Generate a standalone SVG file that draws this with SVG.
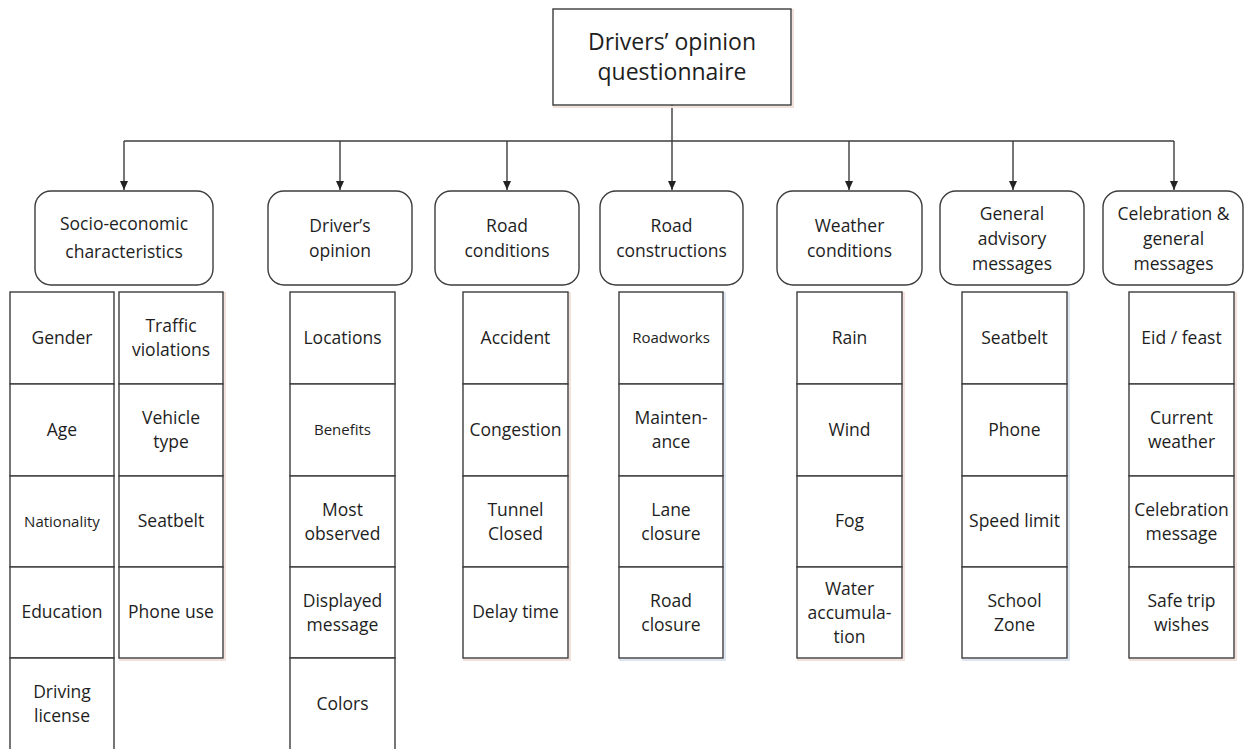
<svg xmlns="http://www.w3.org/2000/svg" width="1245" height="749" viewBox="0 0 1245 749">
<style>
text{font-family:"Open Sans","Noto Sans",sans-serif;fill:#1e1e1e;text-anchor:middle}
.t{font-size:23px}
.c{font-size:17.5px}
.s{font-size:17.5px}
.x{font-size:15px}
.box{fill:#fff;stroke:#3c3c3c;stroke-width:1.4}
.cat{fill:#fff;stroke:#3c3c3c;stroke-width:1.4}
.sh{fill:none;stroke:#f3e2dc;stroke-width:2}
.ln{fill:none;stroke:#3c3c3c;stroke-width:1.4}
</style>
<defs>
<marker id="ah" markerWidth="10" markerHeight="10" refX="9" refY="5" orient="auto" markerUnits="userSpaceOnUse">
<path d="M0,1 L9,5 L0,9 Z" fill="#222"/>
</marker>
</defs>
<rect width="1245" height="749" fill="#fff"/>

<g id="connectors" class="ln">
<line x1="672" y1="105" x2="672" y2="190" marker-end="url(#ah)"/>
<line x1="124" y1="141" x2="1174" y2="141"/>
<line x1="124" y1="141" x2="124" y2="190" marker-end="url(#ah)"/>
<line x1="340" y1="141" x2="340" y2="190" marker-end="url(#ah)"/>
<line x1="507" y1="141" x2="507" y2="190" marker-end="url(#ah)"/>
<line x1="849" y1="141" x2="849" y2="190" marker-end="url(#ah)"/>
<line x1="1013" y1="141" x2="1013" y2="190" marker-end="url(#ah)"/>
<line x1="1174" y1="141" x2="1174" y2="190" marker-end="url(#ah)"/>
</g>

<g id="root">
<rect x="554" y="10" width="239" height="97" class="sh"/>
<rect x="553" y="9" width="238" height="96" class="box"/>
<text x="672" y="50" class="t">Drivers’ opinion</text>
<text x="672" y="80" class="t">questionnaire</text>
</g>

<g id="cat-socio">
<rect x="35" y="191" width="178" height="94" rx="16" class="cat"/>
<text x="124" y="230" class="c">Socio-economic</text>
<text x="124" y="258" class="c">characteristics</text>
</g>
<g id="cat-driver">
<rect x="268" y="191" width="144" height="94" rx="16" class="cat"/>
<text x="340" y="232" class="c">Driver’s</text>
<text x="340" y="257" class="c">opinion</text>
</g>
<g id="cat-roadcond">
<rect x="435" y="191" width="144" height="94" rx="16" class="cat"/>
<text x="507" y="232" class="c">Road</text>
<text x="507" y="257" class="c">conditions</text>
</g>
<g id="cat-roadconstr">
<rect x="600" y="191" width="143" height="94" rx="16" class="cat"/>
<text x="671.5" y="232" class="c">Road</text>
<text x="671.5" y="257" class="c">constructions</text>
</g>
<g id="cat-weather">
<rect x="777" y="191" width="145" height="94" rx="16" class="cat"/>
<text x="849.5" y="232" class="c">Weather</text>
<text x="849.5" y="257" class="c">conditions</text>
</g>
<g id="cat-general">
<rect x="940" y="191" width="144" height="94" rx="16" class="cat"/>
<text x="1012" y="220" class="c">General</text>
<text x="1012" y="245" class="c">advisory</text>
<text x="1012" y="270" class="c">messages</text>
</g>
<g id="cat-celebration">
<rect x="1103" y="191" width="140" height="94" rx="16" class="cat"/>
<text x="1173.5" y="220" class="c">Celebration &amp;</text>
<text x="1173.5" y="245" class="c">general</text>
<text x="1173.5" y="270" class="c">messages</text>
</g>

<!-- socio left column -->
<g id="socio-left">
<rect x="10" y="292" width="104" height="92" class="box"/>
<rect x="10" y="384" width="104" height="92" class="box"/>
<rect x="10" y="476" width="104" height="91" class="box"/>
<rect x="10" y="567" width="104" height="91" class="box"/>
<path d="M10,760 V658 H114 V760" class="box"/>
<text x="62" y="344" class="s">Gender</text>
<text x="62" y="436" class="s">Age</text>
<text x="62" y="527" class="x">Nationality</text>
<text x="62" y="618" class="s">Education</text>
<text x="62" y="698" class="s">Driving</text>
<text x="62" y="722" class="s">license</text>
</g>

<g id="socio-right">
<rect x="120" y="293" width="105" height="367" class="sh"/>
<rect x="119" y="292" width="104" height="92" class="box"/>
<rect x="119" y="384" width="104" height="92" class="box"/>
<rect x="119" y="476" width="104" height="91" class="box"/>
<rect x="119" y="567" width="104" height="91" class="box"/>
<text x="171" y="332" class="s">Traffic</text>
<text x="171" y="356" class="s">violations</text>
<text x="171" y="424" class="s">Vehicle</text>
<text x="171" y="448" class="s">type</text>
<text x="171" y="527" class="s">Seatbelt</text>
<text x="171" y="618" class="s">Phone use</text>
</g>

<g id="driver-items">
<rect x="290" y="292" width="105" height="92" class="box"/>
<rect x="290" y="384" width="105" height="92" class="box"/>
<rect x="290" y="476" width="105" height="91" class="box"/>
<rect x="290" y="567" width="105" height="91" class="box"/>
<path d="M290,760 V658 H395 V760" class="box"/>
<text x="342.5" y="344" class="s">Locations</text>
<text x="342.5" y="435" class="x">Benefits</text>
<text x="342.5" y="516" class="s">Most</text>
<text x="342.5" y="540" class="s">observed</text>
<text x="342.5" y="607" class="s">Displayed</text>
<text x="342.5" y="631" class="s">message</text>
<text x="342.5" y="710" class="s">Colors</text>
</g>

<g id="roadcond-items">
<rect x="464" y="293" width="106" height="367" class="sh"/>
<rect x="463" y="292" width="105" height="92" class="box"/>
<rect x="463" y="384" width="105" height="92" class="box"/>
<rect x="463" y="476" width="105" height="91" class="box"/>
<rect x="463" y="567" width="105" height="91" class="box"/>
<text x="515.5" y="344" class="s">Accident</text>
<text x="515.5" y="436" class="s">Congestion</text>
<text x="515.5" y="516" class="s">Tunnel</text>
<text x="515.5" y="540" class="s">Closed</text>
<text x="515.5" y="618" class="s">Delay time</text>
</g>

<g id="roadconstr-items">
<rect x="620" y="293" width="105" height="367" style="fill:none;stroke:#dde6f2;stroke-width:2"/>
<rect x="619" y="292" width="104" height="92" class="box"/>
<rect x="619" y="384" width="104" height="92" class="box"/>
<rect x="619" y="476" width="104" height="91" class="box"/>
<rect x="619" y="567" width="104" height="91" class="box"/>
<text x="671" y="343" class="x">Roadworks</text>
<text x="671" y="424" class="s">Mainten-</text>
<text x="671" y="448" class="s">ance</text>
<text x="671" y="516" class="s">Lane</text>
<text x="671" y="540" class="s">closure</text>
<text x="671" y="607" class="s">Road</text>
<text x="671" y="631" class="s">closure</text>
</g>

<g id="weather-items">
<rect x="798" y="293" width="106" height="367" class="sh"/>
<rect x="797" y="292" width="105" height="92" class="box"/>
<rect x="797" y="384" width="105" height="92" class="box"/>
<rect x="797" y="476" width="105" height="91" class="box"/>
<rect x="797" y="567" width="105" height="91" class="box"/>
<text x="849.5" y="344" class="s">Rain</text>
<text x="849.5" y="436" class="s">Wind</text>
<text x="849.5" y="527" class="s">Fog</text>
<text x="849.5" y="595" class="s">Water</text>
<text x="849.5" y="619" class="s">accumula-</text>
<text x="849.5" y="643" class="s">tion</text>
</g>

<g id="general-items">
<rect x="963" y="293" width="106" height="367" style="fill:none;stroke:#dde6f2;stroke-width:2"/>
<rect x="962" y="292" width="105" height="92" class="box"/>
<rect x="962" y="384" width="105" height="92" class="box"/>
<rect x="962" y="476" width="105" height="91" class="box"/>
<rect x="962" y="567" width="105" height="91" class="box"/>
<text x="1014.5" y="344" class="s">Seatbelt</text>
<text x="1014.5" y="436" class="s">Phone</text>
<text x="1014.5" y="527" class="s">Speed limit</text>
<text x="1014.5" y="607" class="s">School</text>
<text x="1014.5" y="631" class="s">Zone</text>
</g>

<g id="celebration-items">
<rect x="1130" y="293" width="106" height="367" class="sh"/>
<rect x="1129" y="292" width="105" height="92" class="box"/>
<rect x="1129" y="384" width="105" height="92" class="box"/>
<rect x="1129" y="476" width="105" height="91" class="box"/>
<rect x="1129" y="567" width="105" height="91" class="box"/>
<text x="1181.5" y="344" class="s">Eid / feast</text>
<text x="1181.5" y="424" class="s">Current</text>
<text x="1181.5" y="448" class="s">weather</text>
<text x="1181.5" y="516" class="s">Celebration</text>
<text x="1181.5" y="540" class="s">message</text>
<text x="1181.5" y="607" class="s">Safe trip</text>
<text x="1181.5" y="631" class="s">wishes</text>
</g>
</svg>
